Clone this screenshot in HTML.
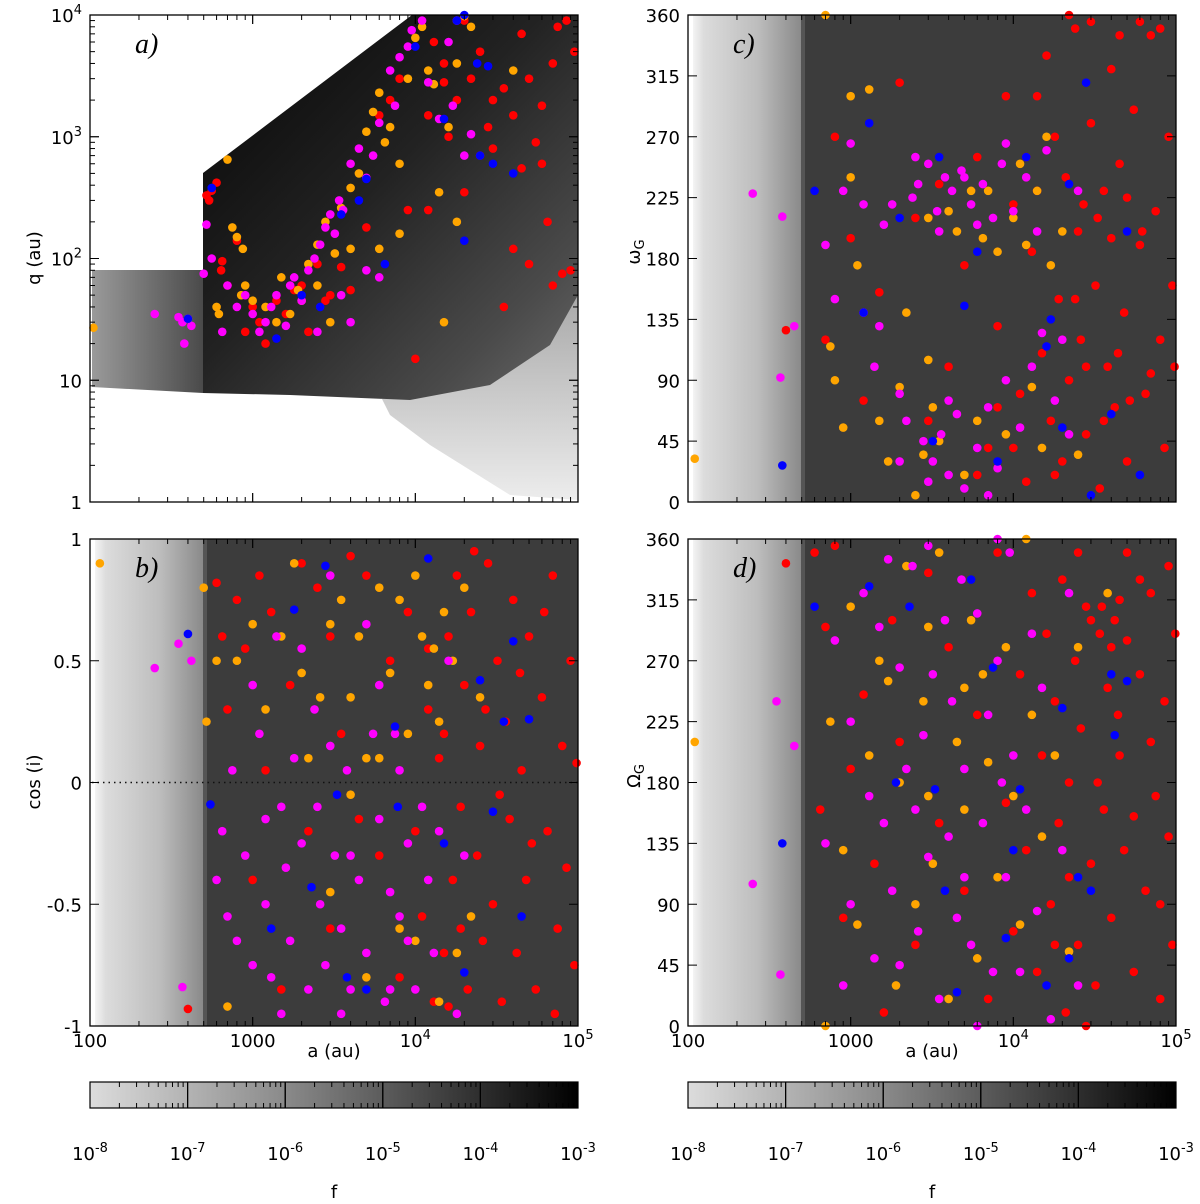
<!DOCTYPE html>
<html><head><meta charset="utf-8">
<style>
html,body{margin:0;padding:0;background:#fff;}
svg{display:block;font-family:"DejaVu Sans","Liberation Sans",sans-serif;}
</style></head>
<body>
<svg id="fig" width="1200" height="1204" viewBox="0 0 1200 1204" xmlns="http://www.w3.org/2000/svg">
<defs>
  <linearGradient id="darkA" x1="0" y1="0" x2="1" y2="1">
    <stop offset="0" stop-color="#050505"/><stop offset="0.45" stop-color="#222"/><stop offset="0.8" stop-color="#4a4a4a"/><stop offset="1" stop-color="#6a6a6a"/>
  </linearGradient>
  <linearGradient id="leftA" x1="0" y1="0" x2="1" y2="0">
    <stop offset="0" stop-color="#9a9a9a"/><stop offset="1" stop-color="#4a4a4a"/>
  </linearGradient>
  <linearGradient id="leftG" x1="0" y1="0" x2="1" y2="0">
    <stop offset="0" stop-color="#f4f4f4"/><stop offset="0.1" stop-color="#dcdcdc"/><stop offset="0.6" stop-color="#bdbdbd"/><stop offset="1" stop-color="#8a8a8a"/>
  </linearGradient>
  <linearGradient id="cbar" x1="0" y1="0" x2="1" y2="0">
    <stop offset="0" stop-color="#dcdcdc"/><stop offset="0.4" stop-color="#8a8a8a"/><stop offset="0.7" stop-color="#454545"/><stop offset="1" stop-color="#000"/>
  </linearGradient>
  <linearGradient id="speck" x1="0" y1="0" x2="0" y2="1">
    <stop offset="0" stop-color="#6a6a6a"/><stop offset="1" stop-color="#e0e0e0"/>
  </linearGradient>
</defs>
<g id="layer"></g>
</svg>
<script>
// ---------- DATA ----------
const aRedA=[[520,330],[560,360],[600,420],[540,300],[650,95],[640,80],[700,60],[800,140],[900,25],[1000,40],[1100,30],[1200,20],[1400,45],[1600,35],[1800,55],[2000,60],[2200,25],[2500,90],[2800,45],[3000,50],[3500,85],[4000,55],[5000,180],[6000,1500],[7000,2000],[8000,3000],[9000,250],[10000,15],[12000,250],[13000,6000],[15000,4000],[18000,2000],[20000,9000],[22000,3000],[25000,5000],[28000,1200],[30000,800],[35000,2500],[40000,1500],[45000,7000],[50000,3000],[55000,900],[60000,1800],[65000,200],[70000,4000],[75000,8000],[85000,9000],[95000,5000],[80000,75],[90000,80],[70000,60],[35000,40],[40000,120],[20000,350],[25000,700],[30000,2000],[45000,550],[15000,2800],[16000,1000],[12000,1500],[60000,600],[50000,90]];
const aOrangeA=[[105,27],[600,40],[620,35],[700,650],[750,180],[800,150],[870,120],[850,50],[900,60],[1000,45],[1200,40],[1400,30],[1500,70],[1700,35],[1900,55],[2000,45],[2200,90],[2500,130],[2800,200],[3000,30],[3200,110],[3500,260],[4000,380],[4500,500],[5000,1100],[5500,1600],[6000,2300],[6500,900],[7000,1200],[8000,600],[9000,3000],[10000,6500],[11000,8000],[12000,3500],[13000,2700],[14000,350],[15000,30],[16000,1200],[18000,4000],[20000,9800],[22000,8000],[40000,3500],[18000,200],[8000,160],[6000,120],[4000,120],[2500,60]];
const aMagentaA=[[250,35],[350,33],[370,30],[400,32],[380,20],[420,28],[500,75],[520,190],[560,100],[650,25],[700,60],[800,40],[900,50],[1000,35],[1100,25],[1200,30],[1300,40],[1400,50],[1600,28],[1700,60],[1800,70],[2000,45],[2200,80],[2400,100],[2600,130],[2800,180],[3000,230],[3200,160],[3400,300],[3600,250],[4000,600],[4500,800],[5000,460],[5500,700],[6000,1300],[7000,3500],[7500,1800],[8000,4500],[9000,5500],[9500,7500],[11000,9000],[12000,2800],[14000,1400],[17000,1800],[20000,700],[22000,1050],[18000,9000],[16000,6000],[3500,50],[2500,25],[5000,80],[6000,70],[4000,30]];
const aBlueA=[[400,32],[560,380],[1400,22],[2000,50],[2600,40],[3500,230],[4500,300],[5000,450],[6500,90],[10000,5500],[15000,1400],[18000,9000],[20000,10000],[24000,4000],[28000,3800],[25000,700],[30000,600],[40000,500],[20000,140]];

const bRed=[[400,-0.93],[600,0.82],[650,0.6],[700,0.3],[800,0.75],[900,0.55],[1000,-0.4],[1100,0.85],[1300,0.7],[1500,-0.85],[1700,0.4],[2000,0.9],[2500,0.8],[3000,-0.6],[3500,0.2],[4000,0.93],[5000,0.85],[6000,-0.3],[7000,0.5],[8000,-0.8],[9000,0.7],[10000,-0.2],[11000,-0.55],[12000,0.3],[13000,-0.9],[14000,0.1],[15000,-0.7],[16000,0.6],[17000,-0.4],[18000,0.85],[19000,-0.1],[20000,0.4],[21000,-0.85],[22000,0.7],[24000,-0.3],[25000,0.15],[26000,-0.65],[28000,0.9],[30000,-0.5],[32000,0.5],[34000,-0.9],[36000,0.25],[38000,-0.15],[40000,0.75],[42000,-0.7],[45000,0.05],[48000,-0.4],[50000,0.6],[55000,-0.85],[60000,0.35],[65000,-0.2],[70000,0.85],[75000,-0.6],[80000,0.15],[85000,-0.35],[90000,0.5],[95000,-0.75],[98000,0.08],[27000,0.3],[33000,-0.05],[44000,0.45],[52000,-0.25],[62000,0.7],[72000,-0.95],[23000,0.95],[15000,0.2],[19000,-0.6],[12000,0.55],[16000,-0.92],[1200,0.05],[2200,-0.2],[4500,-0.15],[3000,0.6]];
const bOrange=[[115,0.9],[500,0.8],[520,0.25],[600,0.5],[700,-0.92],[800,0.5],[1000,0.65],[1200,0.3],[1500,0.6],[1800,0.9],[2000,0.45],[2200,0.1],[2600,0.35],[3000,0.65],[3500,0.75],[4000,0.35],[4500,0.6],[5000,0.1],[6000,0.8],[7000,0.45],[8000,0.75],[9000,0.2],[10000,0.85],[11000,0.6],[12000,0.4],[13000,0.55],[14000,0.25],[15000,0.7],[17000,0.5],[18000,-0.7],[20000,0.8],[22000,-0.55],[25000,0.35],[8000,-0.6],[5000,-0.8],[3000,-0.45],[6000,0.1],[10000,-0.65],[14000,-0.9],[4000,-0.05]];
const bMagenta=[[250,0.47],[350,0.57],[370,-0.84],[420,0.5],[600,-0.4],[650,-0.2],[700,-0.55],[750,0.05],[800,-0.65],[900,-0.3],[1000,-0.75],[1100,0.2],[1200,-0.5],[1300,-0.8],[1400,0.6],[1500,-0.1],[1600,-0.35],[1700,-0.65],[1800,0.1],[2000,-0.25],[2200,-0.85],[2400,0.3],[2600,-0.5],[2800,-0.75],[3000,0.15],[3200,-0.3],[3500,-0.6],[3800,0.05],[4000,-0.85],[4500,-0.4],[5000,-0.7],[5500,0.2],[6000,-0.15],[6500,-0.9],[7000,-0.45],[7500,0.2],[8000,-0.55],[9000,-0.25],[10000,-0.85],[11000,-0.1],[12000,-0.4],[13000,-0.7],[14000,-0.2],[16000,0.5],[18000,-0.95],[20000,-0.3],[2000,0.55],[1000,0.4],[3000,0.85],[5000,0.65],[2500,-0.1],[1500,-0.95],[7000,-0.85],[9000,-0.65],[4000,-0.3],[6000,0.4],[1200,-0.15],[3500,-0.95],[8000,0.05]];
const bBlue=[[400,0.61],[550,-0.09],[1300,-0.6],[1800,0.71],[2300,-0.43],[2800,0.89],[3300,-0.05],[3800,-0.8],[5000,-0.85],[7500,0.23],[7800,-0.1],[12000,0.92],[15000,-0.25],[20000,-0.78],[25000,0.42],[30000,-0.12],[35000,0.25],[40000,0.58],[50000,0.26],[45000,-0.55]];

const cRed=[[400,127],[700,120],[800,270],[1000,195],[1200,75],[1500,155],[2000,310],[2500,210],[3000,60],[3500,235],[4000,100],[5000,175],[6000,255],[7000,40],[8000,130],[9000,300],[10000,220],[11000,80],[12000,15],[13000,185],[14000,230],[15000,110],[16000,330],[17000,60],[18000,270],[19000,150],[20000,30],[21000,240],[22000,90],[24000,350],[25000,200],[26000,120],[28000,50],[30000,280],[32000,160],[34000,10],[36000,230],[38000,100],[40000,320],[42000,70],[45000,250],[48000,140],[50000,30],[55000,290],[60000,190],[65000,80],[70000,345],[75000,215],[80000,120],[85000,40],[90000,270],[95000,160],[98000,100],[22000,360],[30000,355],[45000,345],[60000,355],[80000,350],[27000,220],[33000,210],[40000,195],[50000,225],[62000,200],[28000,100],[36000,60],[44000,110],[52000,75],[70000,95],[18000,20],[24000,150],[14000,300],[12000,255],[10000,40],[8000,70],[6000,20]];
const cOrange=[[110,32],[700,360],[750,115],[800,90],[900,55],[1000,240],[1100,175],[1300,305],[1500,60],[1700,30],[2000,85],[2200,140],[2500,5],[2800,35],[3000,210],[3200,70],[3500,45],[4000,215],[4500,200],[5000,20],[5500,230],[6000,60],[6500,195],[7000,230],[8000,185],[9000,50],[10000,210],[11000,250],[12000,190],[13000,85],[14000,230],[15000,40],[16000,270],[17000,175],[20000,200],[25000,35],[1000,300],[3000,105]];
const cMagenta=[[250,228],[370,92],[380,211],[450,130],[700,190],[800,150],[900,230],[1000,265],[1200,140],[1400,100],[1600,205],[1800,220],[2000,80],[2200,60],[2400,225],[2600,235],[2800,45],[3000,250],[3200,30],[3400,215],[3600,50],[3800,240],[4000,20],[4200,230],[4500,65],[4800,245],[5000,10],[5500,220],[6000,40],[6500,235],[7000,70],[7500,210],[8000,25],[8500,250],[9000,90],[10000,215],[11000,55],[12000,240],[13000,100],[14000,200],[15000,125],[16000,260],[18000,75],[20000,120],[22000,50],[25000,230],[3000,15],[3500,200],[2500,255],[4000,75],[5000,240],[6000,205],[2000,30],[7000,5],[9000,265],[1500,130],[1200,220]];
const cBlue=[[380,27],[600,230],[1200,140],[1300,280],[2000,210],[3200,45],[3500,255],[5000,145],[6000,185],[8000,30],[12000,255],[16000,115],[17000,135],[20000,55],[22000,235],[28000,310],[40000,65],[50000,200],[60000,20],[30000,5]];

const dRed=[[400,342],[600,350],[650,160],[700,295],[800,355],[900,80],[1000,190],[1200,245],[1400,120],[1600,10],[1800,300],[2000,210],[2500,60],[3000,335],[3500,150],[4000,280],[5000,100],[6000,230],[7000,20],[8000,350],[9000,165],[10000,70],[11000,260],[12000,130],[13000,320],[14000,40],[15000,200],[16000,290],[17000,90],[18000,240],[19000,150],[20000,330],[21000,10],[22000,180],[24000,270],[25000,60],[26000,220],[28000,310],[30000,120],[32000,30],[34000,290],[36000,160],[38000,250],[40000,80],[42000,300],[45000,200],[48000,130],[50000,350],[55000,40],[60000,260],[65000,100],[70000,320],[75000,170],[80000,20],[85000,240],[90000,140],[95000,60],[99000,290],[30000,300],[35000,310],[40000,280],[45000,315],[28000,0],[50000,285],[60000,330],[22000,110],[33000,180],[44000,230],[55000,155],[70000,210],[80000,90],[90000,340],[25000,350],[18000,60]];
const dOrange=[[110,210],[700,0],[750,225],[900,130],[1000,310],[1100,75],[1300,200],[1500,270],[1700,255],[1900,30],[2000,180],[2200,340],[2500,90],[2800,240],[3000,170],[3200,120],[3500,350],[4000,20],[4500,210],[5000,160],[5500,300],[6000,50],[6500,260],[7000,195],[8000,110],[9000,280],[10000,170],[11000,75],[12000,360],[13000,230],[15000,140],[18000,200],[22000,55],[25000,280],[38000,320],[3000,295],[5000,250]];
const dMagenta=[[250,105],[350,240],[370,38],[450,207],[700,135],[800,285],[900,30],[1000,225],[1200,320],[1300,170],[1400,50],[1500,295],[1600,150],[1700,345],[1800,100],[2000,265],[2200,190],[2400,340],[2600,70],[2800,215],[3000,125],[3200,260],[3500,20],[3800,300],[4000,140],[4200,240],[4500,80],[4800,330],[5000,190],[5500,60],[6000,305],[6500,150],[7000,230],[7500,40],[8000,270],[8500,180],[9000,110],[9500,350],[10000,200],[11000,40],[12000,160],[13000,290],[14000,85],[15000,250],[17000,5],[20000,130],[22000,320],[25000,30],[3000,355],[2000,45],[6000,0],[8000,360],[1000,90],[5000,110],[2500,160]];
const dBlue=[[380,135],[600,310],[1300,325],[1900,180],[2300,310],[3300,175],[3800,100],[4500,25],[5500,330],[7500,265],[9000,65],[10000,130],[11000,175],[16000,30],[20000,235],[22000,50],[25000,110],[30000,100],[40000,260],[42000,215],[50000,255]];

const xTickLabels=["100","1000","10^4","10^5"];
const qTickLabels=["1","10","10^2","10^3","10^4"];
const cosTickLabels=["-1","-0.5","0","0.5","1"];
const angTickLabels=["0","45","90","135","180","225","270","315","360"];
const cbTickLabels=["10^-8","10^-7","10^-6","10^-5","10^-4","10^-3"];

// ---------- DRAW ----------
const NS="http://www.w3.org/2000/svg";
const L=document.getElementById('layer');
function mk(tag,attrs,parent){const e=document.createElementNS(NS,tag);for(const k in attrs)e.setAttribute(k,attrs[k]);(parent||L).appendChild(e);return e;}
function powText(x,y,s,anchor,size){
  const t=mk('text',{x:x,y:y,'text-anchor':anchor,'font-size':size,fill:'#000'});
  const p=s.split('^');
  t.appendChild(document.createTextNode(p[0]));
  if(p.length>1){const ts=mk('tspan',{dy:-8,'font-size':size*0.72},t);ts.textContent=p[1];}
  return t;
}
const W=488,H=487;
const panels={a:{x:90,y:15},b:{x:90,y:539},c:{x:688,y:15},d:{x:688,y:539}};
function xs(p,a){return p.x+W*Math.log10(a/100)/3;}
const ySc={
  a:(p,v)=>p.y+H-H*Math.log10(v)/4,
  b:(p,v)=>p.y+H-H*(v+1)/2,
  c:(p,v)=>p.y+H-H*v/360,
  d:(p,v)=>p.y+H-H*v/360
};

// backgrounds
function bgA(p){
  const g=mk('g',{});
  
  
  mk('polygon',{points:`${p.x+290},${p.y+380} ${p.x+400},${p.y+360} ${p.x+460},${p.y+320} ${p.x+W},${p.y+270} ${p.x+W},${p.y+485} ${p.x+420},${p.y+480} ${p.x+340},${p.y+430} ${p.x+300},${p.y+400}`,fill:'url(#speck)','fill-opacity':0.6},g);
  mk('polygon',{points:`${p.x+2},${p.y+255} ${p.x+113},${p.y+255} ${p.x+113},${p.y+378} ${p.x+2},${p.y+372}`,fill:'url(#leftA)'},g);
  mk('polygon',{points:`${p.x+113},${p.y+255} ${p.x+113},${p.y+158} ${p.x+322},${p.y} ${p.x+W},${p.y} ${p.x+W},${p.y+280} ${p.x+460},${p.y+330} ${p.x+400},${p.y+370} ${p.x+320},${p.y+385} ${p.x+200},${p.y+380} ${p.x+113},${p.y+378}`,fill:'url(#darkA)'},g);
}
function bgG(p,key){
  const g=mk('g',{});
  
  
  mk('rect',{x:p.x+5,y:p.y,width:108,height:H,fill:'url(#leftG)'},g);
  mk('rect',{x:p.x+113,y:p.y,width:W-113,height:H,fill:'#3c3c3c'},g);
  mk('rect',{x:p.x+113,y:p.y,width:4,height:H,fill:'#555'},g);
}
bgA(panels.a);bgG(panels.b,'b');bgG(panels.c,'c');bgG(panels.d,'d');
const z=panels.b; const zy=ySc.b(z,0);
const dl=mk('line',{x1:z.x+2,y1:zy,x2:z.x+W,y2:zy,stroke:'#111','stroke-width':1.5,'stroke-dasharray':'1.5,4'});



// points
const colors={red:'#ff0000',orange:'#ffa500',magenta:'#ff00ff',blue:'#0000ff'};
const sets={a:{red:aRedA,orange:aOrangeA,magenta:aMagentaA,blue:aBlueA},b:{red:bRed,orange:bOrange,magenta:bMagenta,blue:bBlue},c:{red:cRed,orange:cOrange,magenta:cMagenta,blue:cBlue},d:{red:dRed,orange:dOrange,magenta:dMagenta,blue:dBlue}};
for(const k in sets){
  const p=panels[k];
  for(const col of ['red','orange','magenta','blue']){
    const g=mk('g',{fill:colors[col]});
    
    
    for(const d of sets[k][col]){
      const c=mk('circle',{cx:xs(p,d[0]),cy:ySc[k](p,d[1]),r:4.3},g);
      
      
    }
  }
}

// frames and ticks
for(const k in panels){
  const p=panels[k];
  const g=mk('g',{stroke:'#000','stroke-width':1,fill:'none'});
  
  
  mk('rect',{x:p.x,y:p.y,width:W,height:H,'stroke-width':1.3},g);
  for(let dec=0;dec<3;dec++){for(let m=1;m<=10;m++){
    const x=xs(p,100*Math.pow(10,dec)*m); const len=(m===1||m===10)?9:5;
    mk('line',{x1:x,y1:p.y+H,x2:x,y2:p.y+H-len},g);mk('line',{x1:x,y1:p.y,x2:x,y2:p.y+len},g);
  }}
  if(k==='a'){
    for(let dec=0;dec<4;dec++){for(let m=1;m<=10;m++){
      const y=ySc.a(p,Math.pow(10,dec)*m); const len=(m===1||m===10)?9:5;
      mk('line',{x1:p.x,y1:y,x2:p.x+len,y2:y},g);mk('line',{x1:p.x+W,y1:y,x2:p.x+W-len,y2:y},g);
    }}
  } else if(k==='b'){
    for(let i=0;i<5;i++){const y=ySc.b(p,-1+i*0.5);mk('line',{x1:p.x,y1:y,x2:p.x+9,y2:y},g);mk('line',{x1:p.x+W,y1:y,x2:p.x+W-9,y2:y},g);}
  } else {
    for(let i=0;i<9;i++){const y=ySc.c(p,i*45);mk('line',{x1:p.x,y1:y,x2:p.x+9,y2:y},g);mk('line',{x1:p.x+W,y1:y,x2:p.x+W-9,y2:y},g);}
  }
  const tg=mk('g',{});
  
  
  if(k==='b'||k==='d'){
    xTickLabels.forEach((s,i)=>{tg.appendChild(powText(p.x+W*i/3,p.y+H+21,s,'middle',18));});
  }
  if(k==='a') qTickLabels.forEach((s,i)=>{tg.appendChild(powText(p.x-8,ySc.a(p,Math.pow(10,i))+7,s,'end',18));});
  if(k==='b') cosTickLabels.forEach((s,i)=>{tg.appendChild(powText(p.x-8,ySc.b(p,-1+i*0.5)+7,s,'end',18));});
  if(k==='c'||k==='d') angTickLabels.forEach((s,i)=>{tg.appendChild(powText(p.x-8,ySc.c(p,i*45)+7,s,'end',18));});
  const lab=mk('text',{x:p.x+45,y:p.y+38,'font-size':28,'font-style':'italic','font-family':'Liberation Serif,serif',fill:'#000'});
  lab.textContent=k+')';
  
  
}

// axis titles
function title(txt,x,y,rot,name,sub){
  const t=mk('text',{x:x,y:y,'text-anchor':'middle','font-size':18,fill:'#000',transform:rot?`rotate(-90 ${x} ${y})`:''});
  t.appendChild(document.createTextNode(txt));
  if(sub){const s=mk('tspan',{'font-size':13,dy:4},t);s.textContent=sub;}
  
  
}
title('q (au)',40,258,true,'y-axis-title-a');
title('cos (i)',40,782,true,'y-axis-title-b');
title('ω',640,252,true,'y-axis-title-c','G');
title('Ω',640,776,true,'y-axis-title-d','G');
title('a (au)',334,1057,false,'x-axis-title-b');
title('a (au)',932,1057,false,'x-axis-title-d');

// colorbars
[90,688].forEach((x0,j)=>{
  const g=mk('g',{});
  
  
  mk('rect',{x:x0,y:1082,width:W,height:26,fill:'url(#cbar)',stroke:'#000','stroke-width':1.2},g);
  for(let dec=0;dec<5;dec++){for(let m=1;m<=10;m++){
    const x=x0+W*(dec+Math.log10(m))/5; const len=(m===1||m===10)?26:5;
    mk('line',{x1:x,y1:1082,x2:x,y2:1082+len,stroke:'#000','stroke-width':1},g);
    mk('line',{x1:x,y1:1108,x2:x,y2:1108-len,stroke:'#000','stroke-width':1},g);
  }}
  cbTickLabels.forEach((s,i)=>{g.appendChild(powText(x0+W*i/5,1160,s,'middle',18));});
  const f=mk('text',{x:x0+W/2,y:1198,'text-anchor':'middle','font-size':18,fill:'#000'},g);
  f.textContent='f';
});
</script>
</body></html>
